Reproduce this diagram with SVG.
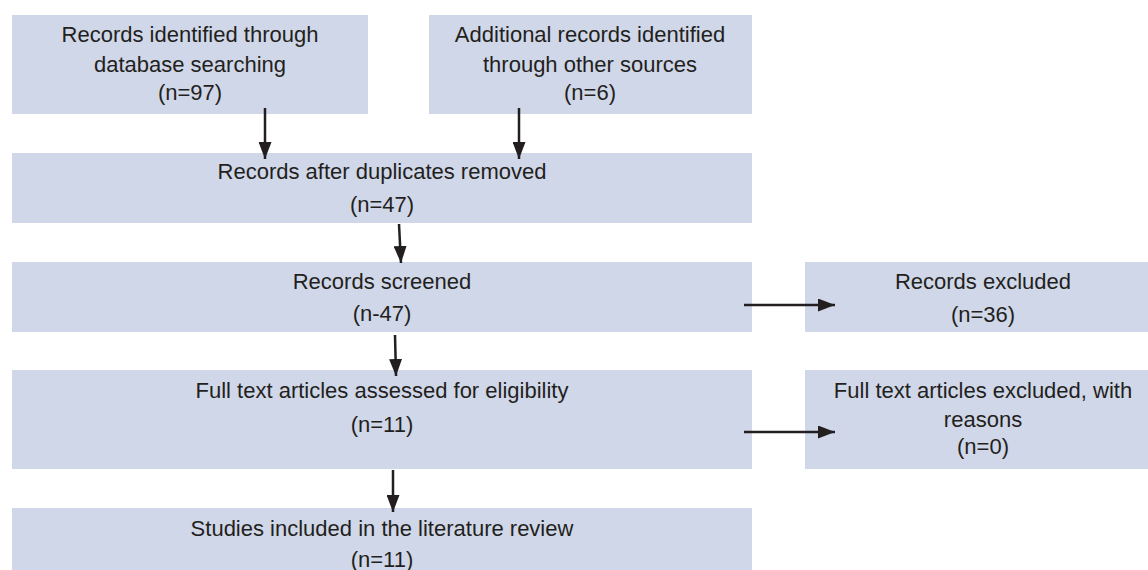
<svg xmlns="http://www.w3.org/2000/svg" width="1148" height="570" viewBox="0 0 1148 570">
<defs>
<style>
.box{fill:#d0d7e8;}
text{font-family:"Liberation Sans",Arial,sans-serif;font-size:22px;fill:#231f20;text-anchor:middle;}
.conn{stroke:#231f20;stroke-width:2.5;fill:none;}
</style>
<marker id="ah" markerWidth="17" markerHeight="13" refX="17" refY="6.5" orient="auto" markerUnits="userSpaceOnUse">
<path d="M0,0 L17,6.5 L0,13 Z" fill="#231f20"/>
</marker>
</defs>
<rect width="1148" height="570" fill="#ffffff"/>
<g id="n1">
<rect class="box" x="12" y="15" width="356" height="99"/>
<text x="190" y="42">Records identified through</text>
<text x="190" y="72">database searching</text>
<text x="190" y="100">(n=97)</text>
</g>
<g id="n2">
<rect class="box" x="429" y="15" width="323" height="99"/>
<text x="590" y="42">Additional records identified</text>
<text x="590" y="72">through other sources</text>
<text x="590" y="100">(n=6)</text>
</g>
<g id="n3">
<rect class="box" x="12" y="153" width="740" height="70"/>
<text x="382" y="179">Records after duplicates removed</text>
<text x="382" y="212">(n=47)</text>
</g>
<g id="n4">
<rect class="box" x="12" y="262" width="740" height="70"/>
<text x="382" y="289">Records screened</text>
<text x="382" y="321">(n-47)</text>
</g>
<g id="n5">
<rect class="box" x="805" y="262" width="343" height="70"/>
<text x="983" y="289">Records excluded</text>
<text x="983" y="322">(n=36)</text>
</g>
<g id="n6">
<rect class="box" x="12" y="370" width="740" height="99"/>
<text x="382" y="398">Full text articles assessed for eligibility</text>
<text x="382" y="432">(n=11)</text>
</g>
<g id="n7">
<rect class="box" x="805" y="370" width="343" height="99"/>
<text x="983" y="398">Full text articles excluded, with</text>
<text x="983" y="427">reasons</text>
<text x="983" y="454">(n=0)</text>
</g>
<g id="n8">
<rect class="box" x="12" y="508" width="740" height="70"/>
<text x="382" y="536">Studies included in the literature review</text>
<text x="382" y="567">(n=11)</text>
</g>
<g id="connectors">
<line class="conn" x1="265" y1="108" x2="265" y2="159" marker-end="url(#ah)"/>
<line class="conn" x1="519" y1="108" x2="519" y2="159" marker-end="url(#ah)"/>
<line class="conn" x1="399" y1="224" x2="401" y2="263" marker-end="url(#ah)"/>
<line class="conn" x1="395" y1="335" x2="396" y2="376" marker-end="url(#ah)"/>
<line class="conn" x1="393" y1="470" x2="393" y2="512" marker-end="url(#ah)"/>
<line class="conn" x1="744" y1="305" x2="835" y2="305" marker-end="url(#ah)"/>
<line class="conn" x1="744" y1="432" x2="835" y2="432" marker-end="url(#ah)"/>
</g>
</svg>
